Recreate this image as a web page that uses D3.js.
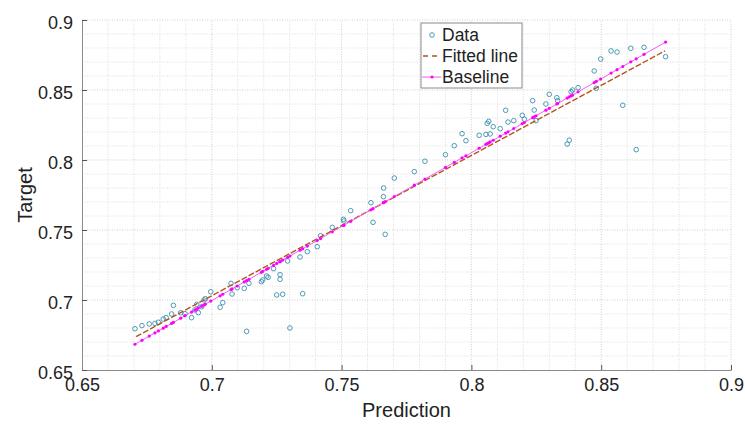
<!DOCTYPE html>
<html lang="en">
<head>
    <meta charset="utf-8">
    <title>Prediction vs Target</title>
    <script src="https://d3js.org/d3.v7.min.js"></script>
    <style type="text/css">
        body { margin: 0; background: #fff; }
        text { font-family: "Liberation Sans", Arial, sans-serif; fill: #222; }
    </style>
</head>
<body>
<script type="text/javascript">
    //Width and height
    var w = 745;
    var h = 427;
    var margin = {left: 82, right: 14, top: 20, bottom: 57};

    //Data
    var predictions = [0.6704, 0.6731, 0.6759, 0.6781, 0.6794, 0.6813, 0.6824, 0.6845, 0.6852, 0.6880,
        0.6897, 0.6922, 0.6935, 0.6942, 0.6948, 0.6961, 0.6970, 0.6975, 0.6996, 0.7032,
        0.7042, 0.7074, 0.7078, 0.7098, 0.7125, 0.7134, 0.7143, 0.7191, 0.7196, 0.7211,
        0.7217, 0.7238, 0.7250, 0.7263, 0.7263, 0.7273, 0.7292, 0.7301, 0.7340, 0.7350,
        0.7368, 0.7406, 0.7419, 0.7464, 0.7507, 0.7509, 0.7535, 0.7613, 0.7621, 0.7661,
        0.7662, 0.7668, 0.7703, 0.7780, 0.7821, 0.7900, 0.7934, 0.7964, 0.7979, 0.8030,
        0.8056, 0.8061, 0.8067, 0.8072, 0.8084, 0.8111, 0.8132, 0.8141, 0.8163, 0.8196,
        0.8204, 0.8236, 0.8242, 0.8249, 0.8287, 0.8300, 0.8329, 0.8332, 0.8369, 0.8377,
        0.8384, 0.8390, 0.8411, 0.8473, 0.8481, 0.8498, 0.8538, 0.8561, 0.8583, 0.8614,
        0.8635, 0.8665, 0.8748];
    var targets = [0.6795, 0.6817, 0.6829, 0.6833, 0.6841, 0.6864, 0.6874, 0.6900, 0.6962, 0.6909,
        0.6902, 0.6874, 0.6929, 0.6969, 0.6909, 0.6952, 0.7000, 0.7009, 0.7059, 0.6948,
        0.6981, 0.7119, 0.7043, 0.7088, 0.7083, 0.6776, 0.7119, 0.7131, 0.7143, 0.7171,
        0.7162, 0.7224, 0.7036, 0.7181, 0.7148, 0.7041, 0.7279, 0.6800, 0.7307, 0.7045,
        0.7345, 0.7381, 0.7459, 0.7519, 0.7576, 0.7564, 0.7638, 0.7695, 0.7555, 0.7738,
        0.7800, 0.7469, 0.7871, 0.7917, 0.7991, 0.8038, 0.8102, 0.8188, 0.8138, 0.8176,
        0.8183, 0.8262, 0.8276, 0.8186, 0.8238, 0.8224, 0.8355, 0.8271, 0.8281, 0.8319,
        0.8291, 0.8424, 0.8357, 0.8281, 0.8400, 0.8469, 0.8445, 0.8424, 0.8114, 0.8141,
        0.8488, 0.8500, 0.8517, 0.8636, 0.8512, 0.8721, 0.8779, 0.8771, 0.8391, 0.8798,
        0.8074, 0.8805, 0.8738];
    var baseline = [0.6684, 0.6712, 0.6742, 0.6765, 0.6779, 0.6799, 0.6811, 0.6833, 0.6840, 0.6870,
        0.6888, 0.6914, 0.6928, 0.6935, 0.6942, 0.6955, 0.6965, 0.6970, 0.6992, 0.7030,
        0.7041, 0.7075, 0.7079, 0.7100, 0.7129, 0.7138, 0.7148, 0.7198, 0.7204, 0.7219,
        0.7226, 0.7248, 0.7261, 0.7274, 0.7274, 0.7285, 0.7305, 0.7314, 0.7356, 0.7366,
        0.7385, 0.7425, 0.7439, 0.7487, 0.7532, 0.7534, 0.7562, 0.7644, 0.7652, 0.7695,
        0.7696, 0.7702, 0.7739, 0.7820, 0.7864, 0.7947, 0.7983, 0.8015, 0.8030, 0.8084,
        0.8112, 0.8117, 0.8123, 0.8129, 0.8141, 0.8170, 0.8192, 0.8201, 0.8225, 0.8260,
        0.8268, 0.8302, 0.8308, 0.8316, 0.8356, 0.8369, 0.8400, 0.8403, 0.8442, 0.8451,
        0.8458, 0.8464, 0.8487, 0.8552, 0.8561, 0.8578, 0.8621, 0.8645, 0.8668, 0.8701,
        0.8723, 0.8755, 0.8842];
    var fitX = [0.6708, 0.8746];
    var fitY = [0.6738, 0.8780];
    var xTicks = [0.65, 0.7, 0.75, 0.8, 0.85, 0.9];
    var yTicks = [0.65, 0.7, 0.75, 0.8, 0.85, 0.9];
    var legendLabels = ["Data", "Fitted line", "Baseline"];

    var dataset = predictions.map(function(p, i) {
        return {x: p, y: targets[i], b: baseline[i]};
    });
    var fitData = fitX.map(function(x, i) { return {x: x, y: fitY[i]}; });

    var dataColor = "#3b8fae";
    var fitColor = "#b0561c";
    var baseColor = "#ff00ff";

    //Scales
    var xScale = d3.scaleLinear()
        .domain([0.65, 0.9])
        .range([margin.left, w - margin.right]);
    var yScale = d3.scaleLinear()
        .domain([0.65, 0.9])
        .range([h - margin.bottom, margin.top]);

    var svg = d3.select("body")
        .append("svg")
        .attr("width", w)
        .attr("height", h);

    //Grid (every 0.01)
    var gridVals = d3.range(65, 91).map(function(d) { return d / 100; });
    var grid = svg.append("g").attr("class", "grid");
    grid.selectAll("line.gx")
        .data(gridVals.slice(1))
        .enter()
        .append("line")
        .attr("x1", function(d) { return xScale(d); })
        .attr("x2", function(d) { return xScale(d); })
        .attr("y1", yScale(0.65))
        .attr("y2", yScale(0.9))
        .attr("stroke", function(d) { return xTicks.indexOf(d) >= 0 ? "#cfcfcf" : "#dedede"; })
        .attr("stroke-width", 1)
        .attr("stroke-dasharray", "1,1.5");
    grid.selectAll("line.gy")
        .data(gridVals.slice(1))
        .enter()
        .append("line")
        .attr("y1", function(d) { return yScale(d); })
        .attr("y2", function(d) { return yScale(d); })
        .attr("x1", xScale(0.65))
        .attr("x2", xScale(0.9))
        .attr("stroke", function(d) { return yTicks.indexOf(d) >= 0 ? "#cfcfcf" : "#dedede"; })
        .attr("stroke-width", 1)
        .attr("stroke-dasharray", "1,1.5");

    //Axes
    var xAxis = d3.axisBottom(xScale)
        .tickValues(xTicks)
        .tickSizeInner(-5)
        .tickSizeOuter(0)
        .tickPadding(10)
        .tickFormat(d3.format("~g"));
    var yAxis = d3.axisLeft(yScale)
        .tickValues(yTicks)
        .tickSizeInner(-5)
        .tickSizeOuter(0)
        .tickPadding(9)
        .tickFormat(d3.format("~g"));

    var gx = svg.append("g")
        .attr("class", "axis")
        .attr("transform", "translate(0," + (h - margin.bottom) + ")")
        .call(xAxis);
    var gy = svg.append("g")
        .attr("class", "axis")
        .attr("transform", "translate(" + margin.left + ",0)")
        .call(yAxis);
    [gx, gy].forEach(function(g) {
        g.select(".domain").attr("stroke", "#8a8a8a");
        g.selectAll(".tick line").attr("stroke", "#555");
        g.selectAll(".tick text")
            .attr("font-size", "18px")
            .attr("font-family", "Liberation Sans, Arial, sans-serif")
            .attr("fill", "#222");
    });
    gx.selectAll(".tick text").attr("dy", "0.62em");
    gy.selectAll(".tick text").attr("dy", "0.45em");

    //Axis labels
    svg.append("text")
        .attr("x", (xScale(0.65) + xScale(0.9)) / 2)
        .attr("y", 417)
        .attr("text-anchor", "middle")
        .attr("font-size", "20px")
        .text("Prediction");
    svg.append("text")
        .attr("transform", "translate(32," + (yScale(0.775)) + ") rotate(-90)")
        .attr("text-anchor", "middle")
        .attr("font-size", "20px")
        .text("Target");

    //Data circles
    svg.selectAll("circle.data")
        .data(dataset)
        .enter()
        .append("circle")
        .attr("class", "data")
        .attr("cx", function(d) { return xScale(d.x); })
        .attr("cy", function(d) { return yScale(d.y); })
        .attr("r", 2.3)
        .attr("fill", "none")
        .attr("stroke", dataColor)
        .attr("stroke-width", 0.9);

    //Fitted line
    var line = d3.line()
        .x(function(d) { return xScale(d.x); })
        .y(function(d) { return yScale(d.y); });
    svg.append("path")
        .datum(fitData)
        .attr("d", line)
        .attr("fill", "none")
        .attr("stroke", fitColor)
        .attr("stroke-width", 1.4)
        .attr("stroke-dasharray", "6,2");

    //Baseline
    var bLine = d3.line()
        .x(function(d) { return xScale(d.x); })
        .y(function(d) { return yScale(d.b); });
    svg.append("path")
        .datum(dataset)
        .attr("d", bLine)
        .attr("fill", "none")
        .attr("stroke", "#f060f0")
        .attr("stroke-width", 1);
    svg.selectAll("circle.base")
        .data(dataset)
        .enter()
        .append("circle")
        .attr("class", "base")
        .attr("cx", function(d) { return xScale(d.x); })
        .attr("cy", function(d) { return yScale(d.b); })
        .attr("r", 1.6)
        .attr("fill", baseColor);

    //Legend
    var legend = svg.append("g").attr("transform", "translate(421,23)");
    legend.append("rect")
        .attr("width", 101)
        .attr("height", 65)
        .attr("fill", "#fff")
        .attr("stroke", "#8a8a8a")
        .attr("stroke-width", 1);
    var rowY = [12, 33, 54];
    legend.selectAll("text")
        .data(legendLabels)
        .enter()
        .append("text")
        .attr("x", 21)
        .attr("y", function(d, i) { return rowY[i]; })
        .attr("dy", "0.36em")
        .attr("font-size", "17.5px")
        .text(function(d) { return d; });
    legend.append("circle")
        .attr("cx", 11).attr("cy", rowY[0]).attr("r", 2.3)
        .attr("fill", "none").attr("stroke", dataColor).attr("stroke-width", 0.9);
    legend.append("line")
        .attr("x1", 1).attr("x2", 20).attr("y1", rowY[1]).attr("y2", rowY[1])
        .attr("stroke", fitColor).attr("stroke-width", 1.3).attr("stroke-dasharray", "5,4")
        .attr("stroke-dashoffset", -1);
    legend.append("line")
        .attr("x1", 1).attr("x2", 20).attr("y1", rowY[2]).attr("y2", rowY[2])
        .attr("stroke", "#f060f0").attr("stroke-width", 1);
    legend.append("circle")
        .attr("cx", 11).attr("cy", rowY[2]).attr("r", 1.6)
        .attr("fill", baseColor);
</script>
</body>
</html>
